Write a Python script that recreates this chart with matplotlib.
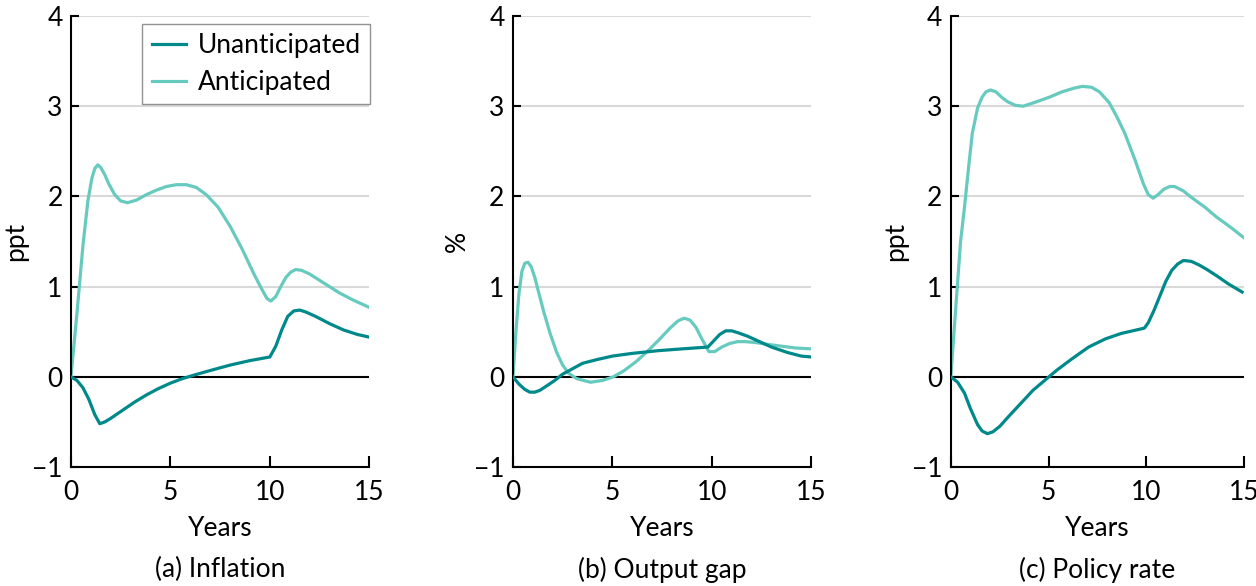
import matplotlib.pyplot as plt

# values
# (a) Inflation
infl_un_x = [0, 0.3, 0.6, 0.9, 1.2, 1.45, 1.7, 2.0, 2.4, 2.8, 3.2, 3.8, 4.4, 5.0, 5.6, 6.2, 7.0, 8.0, 9.0, 10.0, 10.3, 10.6, 10.9, 11.2, 11.5, 11.8, 12.3, 13.0, 13.7, 14.4, 15.0]
infl_un_y = [0, -0.04, -0.12, -0.25, -0.42, -0.52, -0.5, -0.46, -0.4, -0.34, -0.28, -0.2, -0.13, -0.07, -0.02, 0.02, 0.07, 0.13, 0.18, 0.22, 0.34, 0.52, 0.67, 0.73, 0.74, 0.72, 0.67, 0.59, 0.52, 0.47, 0.44]
infl_an_x = [0, 0.3, 0.6, 0.85, 1.05, 1.2, 1.35, 1.5, 1.7, 1.9, 2.2, 2.5, 2.85, 3.3, 3.8, 4.3, 4.8, 5.3, 5.8, 6.3, 6.8, 7.4, 8.0, 8.6, 9.2, 9.6, 9.85, 10.05, 10.3, 10.55, 10.8, 11.05, 11.3, 11.6, 12.0, 12.5, 13.0, 13.5, 14.2, 15.0]
infl_an_y = [0, 0.7, 1.45, 1.95, 2.2, 2.31, 2.35, 2.32, 2.24, 2.14, 2.02, 1.95, 1.93, 1.96, 2.02, 2.07, 2.11, 2.13, 2.13, 2.1, 2.02, 1.88, 1.67, 1.42, 1.14, 0.97, 0.87, 0.84, 0.89, 1.0, 1.1, 1.16, 1.19, 1.18, 1.14, 1.07, 1.0, 0.93, 0.85, 0.77]

# (b) Output gap
gap_un_x = [0, 0.3, 0.6, 0.85, 1.1, 1.35, 1.7, 2.1, 2.5, 3.0, 3.5, 4.2, 5.0, 6.0, 7.3, 8.5, 9.8, 10.1, 10.4, 10.7, 11.0, 11.3, 11.8, 12.3, 13.0, 13.8, 14.5, 15.0]
gap_un_y = [0, -0.08, -0.14, -0.17, -0.17, -0.15, -0.1, -0.04, 0.03, 0.09, 0.15, 0.19, 0.23, 0.26, 0.29, 0.31, 0.33, 0.4, 0.47, 0.51, 0.51, 0.49, 0.45, 0.4, 0.33, 0.27, 0.23, 0.22]
gap_an_x = [0, 0.15, 0.3, 0.45, 0.6, 0.76, 0.92, 1.1, 1.3, 1.55, 1.87, 2.2, 2.5, 2.8, 3.2, 3.9, 4.5, 5.05, 5.6, 6.2, 6.75, 7.3, 7.9, 8.3, 8.6, 8.9, 9.2, 9.5, 9.85, 10.15, 10.5, 10.9, 11.3, 11.7, 12.2, 12.8, 13.5, 14.2, 15.0]
gap_an_y = [0, 0.5, 0.92, 1.17, 1.26, 1.27, 1.22, 1.1, 0.93, 0.72, 0.48, 0.27, 0.13, 0.04, -0.02, -0.06, -0.04, 0.0, 0.07, 0.17, 0.28, 0.4, 0.54, 0.62, 0.65, 0.63, 0.55, 0.42, 0.28, 0.28, 0.33, 0.37, 0.39, 0.39, 0.38, 0.36, 0.34, 0.32, 0.31]

# (c) Policy rate
rate_un_x = [0, 0.35, 0.7, 1.0, 1.37, 1.6, 1.87, 2.15, 2.5, 3.04, 3.6, 4.2, 4.8, 5.4, 6.2, 7.05, 7.9, 8.7, 9.3, 9.9, 10.1, 10.4, 10.7, 11.0, 11.3, 11.6, 11.9, 12.3, 12.7, 13.1, 13.6, 14.2, 14.9]
rate_un_y = [0, -0.06, -0.18, -0.35, -0.53, -0.6, -0.63, -0.61, -0.55, -0.42, -0.29, -0.15, -0.04, 0.07, 0.2, 0.33, 0.42, 0.48, 0.51, 0.54, 0.6, 0.74, 0.9, 1.06, 1.18, 1.25, 1.29, 1.28, 1.24, 1.19, 1.12, 1.03, 0.94]
rate_an_x = [0, 0.3, 0.5, 0.7, 0.9, 1.1, 1.37, 1.6, 1.8, 2.03, 2.3, 2.6, 2.9, 3.3, 3.7, 4.4, 5.04, 5.7, 6.3, 6.73, 7.2, 7.6, 8.1, 8.5, 8.9, 9.43, 9.85, 10.1, 10.35, 10.6, 10.9, 11.2, 11.45, 11.9, 12.3, 13.0, 13.6, 14.3, 15.0]
rate_an_y = [0, 0.9, 1.5, 1.88, 2.3, 2.7, 2.98, 3.1, 3.16, 3.18, 3.16, 3.1, 3.05, 3.01, 3.0, 3.05, 3.1, 3.16, 3.2, 3.22, 3.21, 3.16, 3.04, 2.88, 2.7, 2.4, 2.14, 2.02, 1.98, 2.02, 2.08, 2.11, 2.11, 2.06, 1.99, 1.88, 1.77, 1.66, 1.54]

titles = ['(a) Inflation', '(b) Output gap', '(c) Policy rate']
ylabels = ['ppt', '%', 'ppt']
series = [(infl_un_x, infl_un_y, infl_an_x, infl_an_y),
          (gap_un_x, gap_un_y, gap_an_x, gap_an_y),
          (rate_un_x, rate_un_y, rate_an_x, rate_an_y)]

dark = '#00898a'
light = '#66cbbe'

plt.rcParams['font.family'] = ['Lato', 'DejaVu Sans']
plt.rcParams['font.size'] = 19

fig = plt.figure(figsize=(12.56, 5.86), dpi=100)
# panel boxes (left, width) in figure fraction; last one a touch narrower so "15" fits
boxes = [(0.0565, 0.2375), (0.4084, 0.2375), (0.757, 0.2335)]
for i in range(3):
    ax = fig.add_axes([boxes[i][0], 0.203, boxes[i][1], 0.7697])
    ux, uy, ax_, ay = series[i]
    for g in [1, 2, 3, 4]:
        ax.axhline(g, color='#d9d9d9', lw=1.5, zorder=0)
    ax.axhline(0, color='black', lw=1.5, zorder=1)
    ax.plot(ux, uy, color=dark, lw=2.3, label='Unanticipated', zorder=3, solid_joinstyle='round')
    ax.plot(ax_, ay, color=light, lw=2.3, label='Anticipated', zorder=2, solid_joinstyle='round')
    ax.set_xlim(0, 15)
    ax.set_ylim(-1, 4)
    ax.set_xticks([0, 5, 10, 15])
    ax.set_yticks([-1, 0, 1, 2, 3, 4])
    ax.set_yticklabels(['\u22121', '0', '1', '2', '3', '4'])
    ax.spines['top'].set_visible(False)
    ax.spines['right'].set_visible(False)
    ax.spines['left'].set_linewidth(1.5)
    ax.spines['bottom'].set_linewidth(1.5)
    ax.tick_params(axis='y', direction='in', length=6, width=1.5, pad=6, labelsize=19)
    ax.tick_params(axis='x', direction='in', length=8, width=1.5, pad=9, labelsize=19)
    ax.set_xlabel('Years', fontsize=19, labelpad=8)
    ax.set_ylabel(ylabels[i], fontsize=19, labelpad=3)
    ax.text(0.5, -0.228, titles[i], transform=ax.transAxes, ha='center', va='center', fontsize=19)
    if i == 0:
        leg = ax.legend(loc='upper right', bbox_to_anchor=(1.003, 0.983), borderaxespad=0,
                        fontsize=19, frameon=True, fancybox=False, edgecolor='#777777',
                        handlelength=1.3, borderpad=0.35, labelspacing=0.45, handletextpad=0.45)
        leg.get_frame().set_linewidth(1.0)

fig.savefig('out.png', dpi=100)
